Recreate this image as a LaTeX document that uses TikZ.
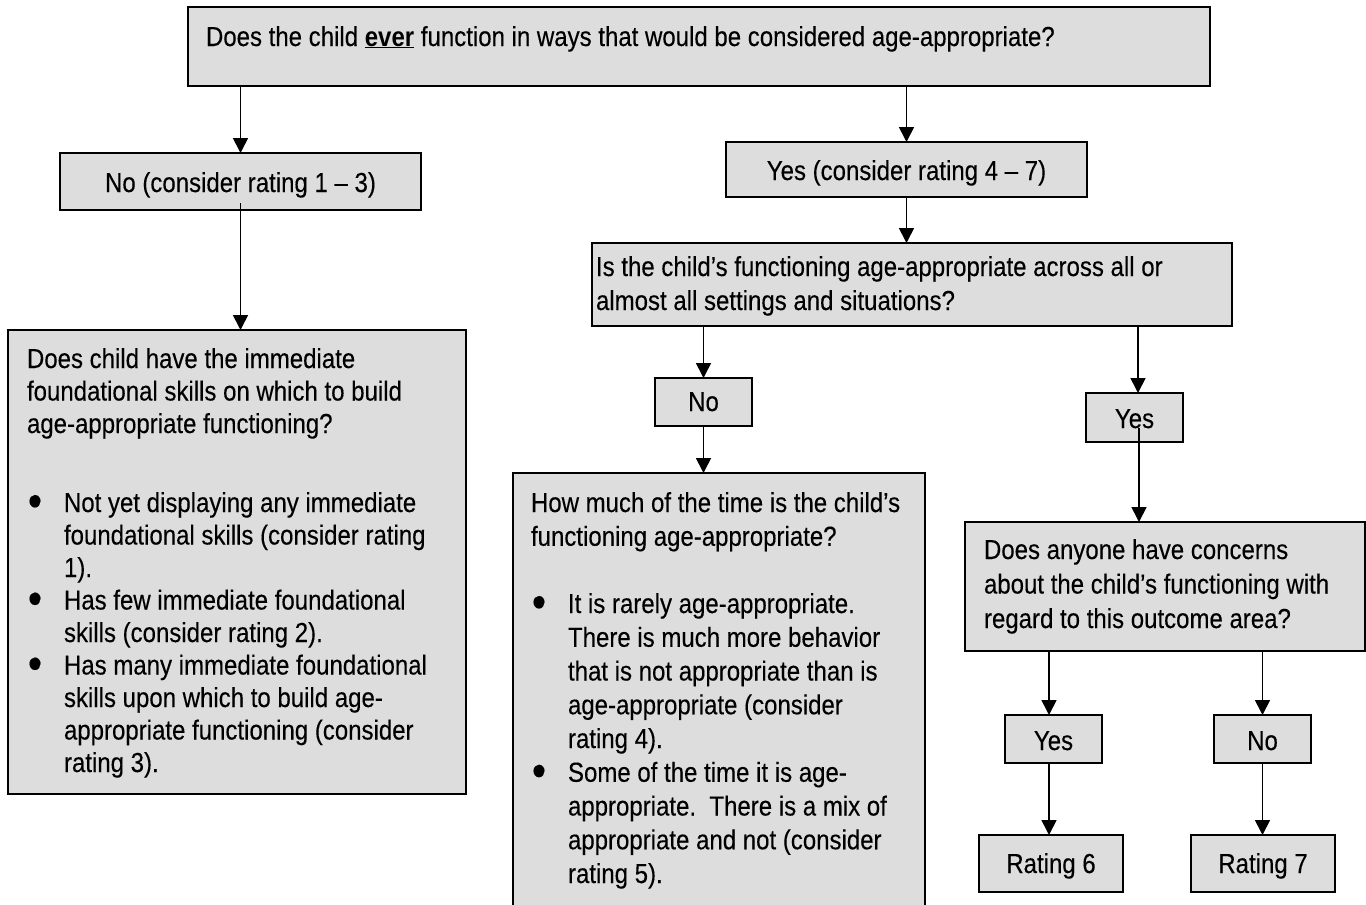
\documentclass[tikz,border=0pt]{standalone}
\usepackage{fontspec}
\setmainfont{Liberation Sans}[FakeStretch=0.873, UprightFeatures={FakeBold=0.25}]
\usetikzlibrary{arrows.meta}
\definecolor{boxgray}{RGB}{221,221,221}

\newenvironment{bulletlist}{\begin{list}{\hspace{1pt}\raisebox{-4.5pt}{\fontsize{46}{46}\selectfont\textbullet}\hfill}{%
  \setlength\leftmargin{37pt}\setlength\labelwidth{37pt}\setlength\labelsep{0pt}%
  \setlength\topsep{0pt}\setlength\partopsep{0pt}\setlength\itemsep{0pt}\setlength\parsep{0pt}}}%
  {\end{list}}

\tikzset{
  box/.style={draw, line width=2pt, fill=boxgray, outer sep=0pt, inner sep=0pt,
    anchor=north west, font=\fontsize{27.5}{33}\selectfont},
  textbox/.style={box, align=flush left, inner xsep=19pt},
  arrow/.style={-{Triangle[length=15pt,width=15pt]}, line width=1.7pt},
}

\begin{document}
\begin{tikzpicture}[x=1pt,y=-1pt]
            \useasboundingbox (0,0) rectangle (1366,905);
            \clip (0,0) rectangle (1366,905);

            \node[textbox, inner xsep=18pt, text width=986pt, text height=39pt, text depth=40pt] (top) at (188,7)
                {Does the child \underline{\textbf{ever}} function in ways that would be considered age-appropriate?};
            \node[box, minimum width=361pt, text height=39pt, text depth=18pt] (no13) at (60,153) {No (consider rating 1 -- 3)};
            \node[box, minimum width=361pt, text height=38pt, text depth=17pt] (yes47) at (726,142) {Yes (consider rating 4 -- 7)};
            \node[textbox, inner xsep=4pt, text width=632pt, text height=33pt, text depth=50pt,
                font=\fontsize{27.5}{34}\selectfont] (isbox) at (592,243)
                {Is the child’s functioning age-appropriate across all or\\ almost all settings and situations?};
            \node[box, minimum width=97pt, text height=33pt, text depth=15pt] (no) at (655,378) {No};
            \node[box, minimum width=97pt, text height=35pt, text depth=14pt] (yes) at (1086,393) {Yes};

            \node[textbox, text width=420pt, text height=38pt, text depth=426pt,
                font=\fontsize{27.5}{32.5}\selectfont] (skills) at (8,330)
                {Does child have the immediate\\ foundational skills on which to build\\ age-appropriate functioning?\par
                \vspace{46.5pt}
                \begin{bulletlist}
                \item Not yet displaying any immediate\\ foundational skills (consider rating\\ 1).
                \item Has few immediate foundational\\ skills (consider rating 2).
                \item Has many immediate foundational\\ skills upon which to build age-\\ appropriate functioning (consider\\ rating 3).
                \end{bulletlist}};
            \node[textbox, inner xsep=18pt, text width=376pt, text height=39pt, text depth=421pt,
                font=\fontsize{27.5}{33.75}\selectfont] (howmuch) at (513,473)
                {How much of the time is the child’s\\ functioning age-appropriate?\par
                \vspace{33.5pt}
                \begin{bulletlist}
                \item It is rarely age-appropriate.\\ There is much more behavior\\ that is not appropriate than is\\ age-appropriate (consider\\ rating 4).
                \item Some of the time it is age-\\ appropriate.\ \ There is a mix of\\ appropriate and not (consider\\ rating 5).
                \end{bulletlist}};
            \node[textbox, text width=362pt, text height=37pt, text depth=92pt,
                font=\fontsize{27.5}{34.5}\selectfont] (anyone) at (965,522)
                {Does anyone have concerns\\ about the child’s functioning with\\ regard to this outcome area?};

            \node[box, minimum width=97pt, text height=35pt, text depth=13pt] (yes2) at (1005,715) {Yes};
            \node[box, minimum width=97pt, text height=35pt, text depth=13pt] (no2) at (1214,715) {No};
            \node[box, minimum width=144pt, text height=38pt, text depth=19pt] (rating6) at (979,835) {Rating 6};
            \node[box, minimum width=144pt, text height=38pt, text depth=19pt] (rating7) at (1191,835) {Rating 7};

            \draw[arrow] (no13.north |- top.south) -- (no13.north);
            \draw[arrow] ([yshift=7pt]no13.south) -- (no13.south |- skills.north);
            \draw[arrow] (yes47.north |- top.south) -- (yes47.north);
            \draw[arrow] (yes47.south) -- (yes47.south |- isbox.north);
            \draw[arrow] (no.north |- isbox.south) -- (no.north);
            \draw[arrow] (no.south) -- (no.south |- howmuch.north);
            \draw[arrow] ([xshift=3.5pt]yes.north |- isbox.south) -- ([xshift=3.5pt]yes.north);
            \draw[arrow] ([xshift=4.5pt,yshift=14pt]yes.south) -- ([xshift=4.5pt]yes.south |- anyone.north);
            \draw[arrow] ([xshift=-4.5pt]yes2.north |- anyone.south) -- ([xshift=-4.5pt]yes2.north);
            \draw[arrow] (no2.north |- anyone.south) -- (no2.north);
            \draw[arrow] ([xshift=-2pt]rating6.north |- yes2.south) -- ([xshift=-2pt]rating6.north);
            \draw[arrow] (no2.south) -- (no2.south |- rating7.north);
        \end{tikzpicture}
\end{document}
